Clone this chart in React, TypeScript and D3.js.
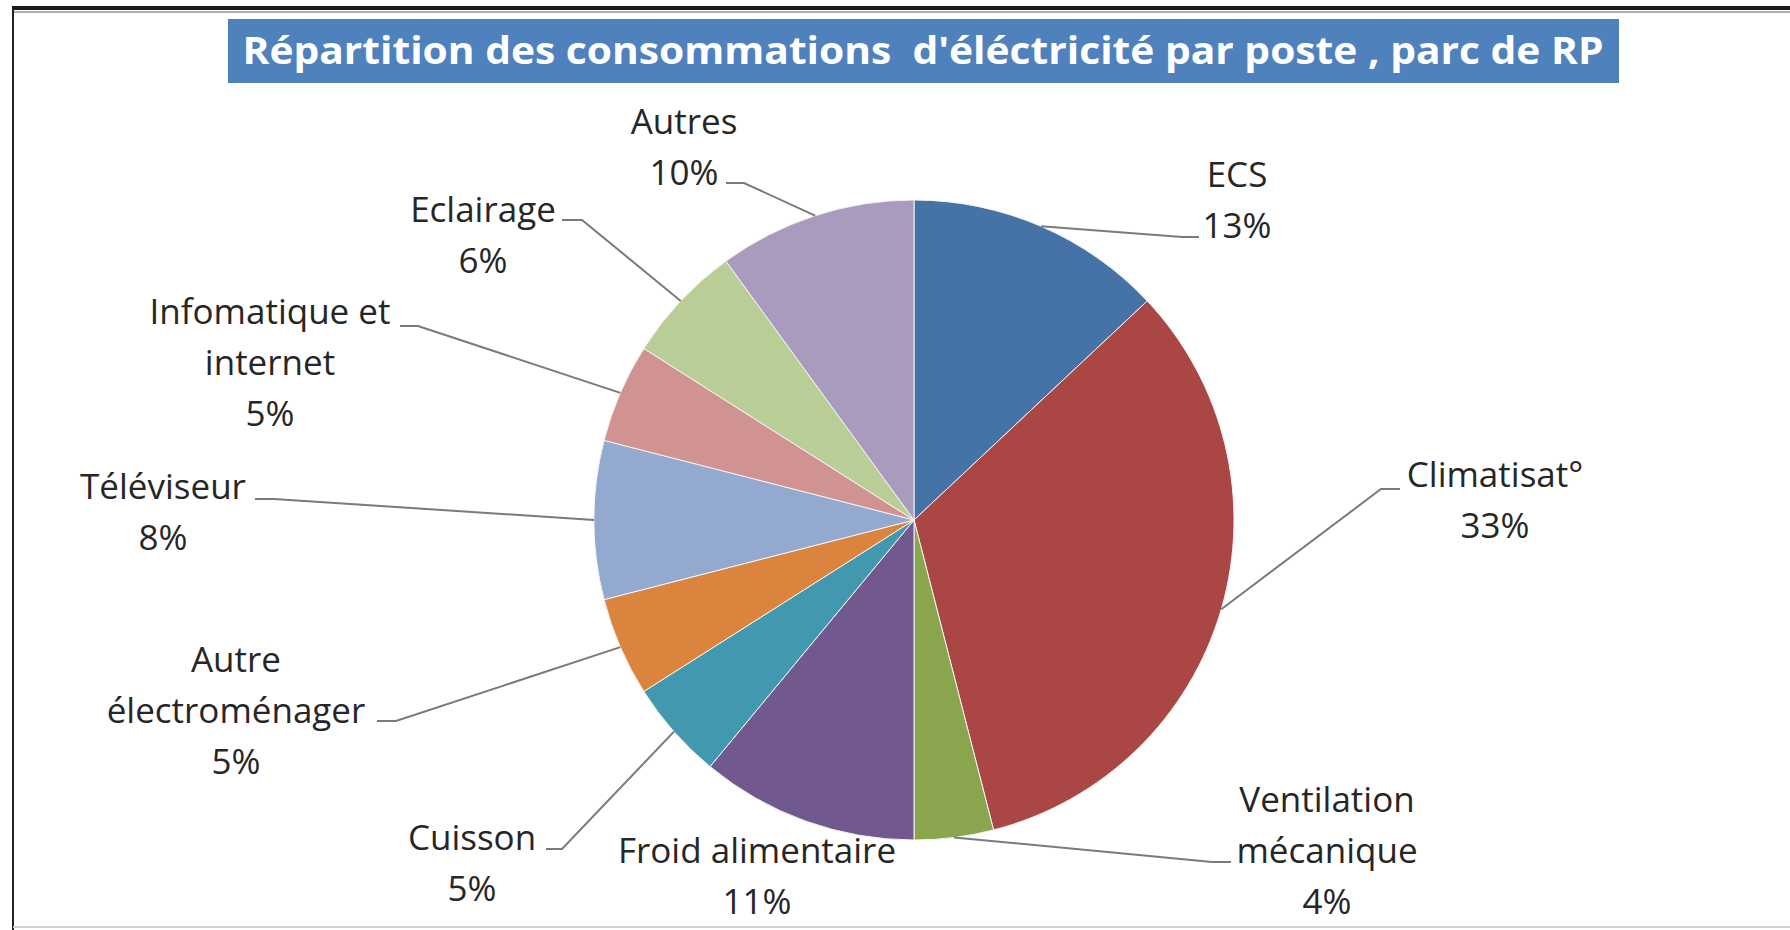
import React from "react";
import * as d3 from "d3";

const categories: string[][] = [
  ["ECS"],
  ["Climatisat°"],
  ["Ventilation", "mécanique"],
  ["Froid alimentaire"],
  ["Cuisson"],
  ["Autre", "électroménager"],
  ["Téléviseur"],
  ["Infomatique et", "internet"],
  ["Eclairage"],
  ["Autres"],
];
const values: number[] = [13, 33, 4, 11, 5, 5, 8, 5, 6, 10];
const colors: string[] = [
  "#4572A7", "#AA4643", "#89A54E", "#71588F", "#4198AF",
  "#DB843D", "#93A9CF", "#D19392", "#B9CD96", "#A99BBD",
];
const title = "Répartition des consommations  d'éléctricité par poste , parc de RP";

// label layout: text center x, first line visual center y, leader anchor (near text) and elbow
const labelLayout = [
  { x: 1237, y: 174, anchor: [1199, 237], elbow: [1182, 237] },
  { x: 1495, y: 474, anchor: [1400, 489], elbow: [1381, 489] },
  { x: 1327, y: 799, anchor: [1231, 862], elbow: [1212, 862] },
  { x: 757, y: 850, anchor: null, elbow: null },
  { x: 472, y: 837, anchor: [546, 849], elbow: [562, 849] },
  { x: 236, y: 659, anchor: [377, 721], elbow: [396, 721] },
  { x: 163, y: 486, anchor: [255, 499], elbow: [274, 499] },
  { x: 270, y: 311, anchor: [400, 326], elbow: [418, 326] },
  { x: 483, y: 209, anchor: [562, 220], elbow: [582, 220] },
  { x: 684, y: 121, anchor: [726, 183], elbow: [744, 183] },
];

const W = 1790;
const H = 930;
const cx = 914;
const cy = 520;
const R = 320;
const lineH = 51;
const fontSize = 35;

export default function App() {
  const pie = d3.pie<number>().sort(null).value((d) => d)(values);
  const arc = d3.arc<d3.PieArcDatum<number>>().innerRadius(0).outerRadius(R);
  const total = d3.sum(values);

  return (
    <svg
      width={W}
      height={H}
      style={{ position: "absolute", left: 0, top: 0, background: "#fff" }}
      fontFamily="'Open Sans', sans-serif"
    >
      <rect x={0} y={0} width={W} height={H} fill="#fff" />
      {/* chart border */}
      <line x1={12} y1={8} x2={W} y2={8} stroke="#1a1a1a" strokeWidth={4} />
      <line x1={12} y1={12} x2={W} y2={12} stroke="#777" strokeWidth={2} opacity={0.6} />
      <line x1={13} y1={8} x2={13} y2={H} stroke="#222" strokeWidth={2} />
      <line x1={13} y1={927} x2={W} y2={927} stroke="#d0d0d0" strokeWidth={2} />

      {/* title */}
      <rect x={228} y={19} width={1391} height={64} fill="#4F81BD" />
      <text
        x={923}
        y={64}
        textAnchor="middle"
        fill="#fff"
        fontWeight="bold"
        fontSize={38}
        textLength={1361}
        lengthAdjust="spacingAndGlyphs"
        style={{ whiteSpace: "pre" }}
      >
        {title}
      </text>

      {/* pie */}
      <g transform={`translate(${cx},${cy})`}>
        {pie.map((p, i) => (
          <path key={i} d={arc(p) || ""} fill={colors[i]} stroke="#f4f4f4" strokeWidth={1} />
        ))}
      </g>

      {/* leader lines */}
      {pie.map((p, i) => {
        const L = labelLayout[i];
        if (!L.anchor || !L.elbow) return null;
        const a = (p.startAngle + p.endAngle) / 2;
        const px = cx + R * Math.sin(a);
        const py = cy - R * Math.cos(a);
        return (
          <polyline
            key={i}
            points={`${px},${py} ${L.elbow[0]},${L.elbow[1]} ${L.anchor[0]},${L.anchor[1]}`}
            fill="none"
            stroke="#7a7a7a"
            strokeWidth={2}
          />
        );
      })}

      {/* labels */}
      {categories.map((lines, i) => {
        const L = labelLayout[i];
        const all = [...lines, `${Math.round((values[i] / total) * 100)}%`];
        return (
          <text
            key={i}
            textAnchor="middle"
            fontSize={fontSize}
            fill="#262626"
          >
            {all.map((t, j) => (
              <tspan key={j} x={L.x} y={L.y + j * lineH + fontSize * 0.36}>
                {t}
              </tspan>
            ))}
          </text>
        );
      })}
    </svg>
  );
}
